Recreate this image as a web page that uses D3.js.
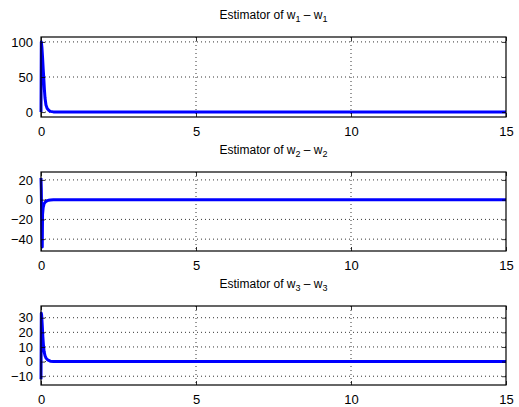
<!DOCTYPE html>
<html>
<head>
<meta charset="utf-8">
<script src="https://cdn.jsdelivr.net/npm/d3@7"></script>
<style>
  body { margin: 0; background: #fff; }
  text { font-family: "Liberation Sans", Arial, Helvetica, sans-serif; fill: #000; }
</style>
</head>
<body>
<div id="vizArea"></div>
<script>
// time samples + values
const time1 = [0, 0.01, 0.03, 0.05, 0.07, 0.09, 0.11, 0.13, 0.16, 0.2, 0.25, 0.3, 0.4, 0.6, 1, 2, 5, 10, 15]
const w1 = [0, 100, 92, 78, 62, 48, 32, 20, 10, 5, 2.5, 1, 0.3, 0, 0, 0, 0, 0, 0]

const time2 = [0, 0.01, 0.03, 0.04, 0.05, 0.07, 0.1, 0.15, 0.2, 0.25, 0.3, 0.4, 0.6, 1, 2, 5, 10, 15]
const w2 = [22, 10, -40, -48, -15, -8, -4, -2, -1, -0.6, -0.3, 0, 0, 0, 0, 0, 0, 0]

const time3 = [0, 0.01, 0.02, 0.04, 0.06, 0.08, 0.1, 0.13, 0.16, 0.2, 0.25, 0.3, 0.4, 0.6, 1, 2, 5, 10, 15]
const w3 = [-12, 33, 32, 25, 17, 11, 7, 4, 2.5, 1.5, 0.8, 0.3, 0, 0, 0, 0, 0, 0, 0]

const xTicks = [0, 5, 10, 15]
const yTicks1 = [0, 50, 100]
const yTicks2 = [-40, -20, 0, 20]
const yTicks3 = [-10, 0, 10, 20, 30]
const subs = ['1', '2', '3']

const W = 519, H = 407
const left = 41, right = 506

const svg = d3.select('#vizArea').append('svg')
    .attr('width', W)
    .attr('height', H)

const panels = [
    {t: time1, v: w1, ticks: yTicks1, dom: [-7, 107], top: 37, bottom: 117},
    {t: time2, v: w2, ticks: yTicks2, dom: [-52, 28], top: 172, bottom: 251},
    {t: time3, v: w3, ticks: yTicks3, dom: [-16, 38], top: 306, bottom: 385}
]

const x = d3.scaleLinear().domain([0, 15]).range([left, right])

panels.forEach((p, i) => {
    const y = d3.scaleLinear().domain(p.dom).range([p.bottom, p.top])
    const g = svg.append('g')

    // dotted grid
    g.selectAll('.gx').data(xTicks.slice(1, -1)).enter().append('line')
        .attr('x1', d => x(d)).attr('x2', d => x(d))
        .attr('y1', p.top).attr('y2', p.bottom)
        .attr('stroke', '#000').attr('stroke-width', 0.8)
        .attr('stroke-dasharray', '1,3')
    g.selectAll('.gy').data(p.ticks).enter().append('line')
        .attr('x1', left).attr('x2', right)
        .attr('y1', d => y(d)).attr('y2', d => y(d))
        .attr('stroke', '#000').attr('stroke-width', 0.8)
        .attr('stroke-dasharray', '1,3')

    // data line
    const line = d3.line().x((d, k) => x(p.t[k])).y(d => y(d))
    g.append('path')
        .datum(p.v)
        .attr('d', line)
        .attr('fill', 'none')
        .attr('stroke', '#0000ff')
        .attr('stroke-width', 3)
        .attr('stroke-linejoin', 'round')

    // axes, inward ticks on all sides
    const ax = d3.axisBottom(x).tickValues(xTicks).tickSize(-4).tickPadding(10)
    const gb = g.append('g').attr('transform', `translate(0,${p.bottom})`).call(ax)
    const gt = g.append('g').attr('transform', `translate(0,${p.top})`)
        .call(d3.axisTop(x).tickValues(xTicks).tickSize(-4).tickFormat(''))
    const gl = g.append('g').attr('transform', `translate(${left},0)`)
        .call(d3.axisLeft(y).tickValues(p.ticks).tickSize(-4).tickPadding(8))
    const gr = g.append('g').attr('transform', `translate(${right},0)`)
        .call(d3.axisRight(y).tickValues(p.ticks).tickSize(-4).tickFormat(''))

    ;[gb, gt, gl, gr].forEach(a => {
        a.select('.domain').remove()
        a.selectAll('line').attr('stroke', '#000').attr('stroke-width', 0.8)
        a.selectAll('text').attr('font-size', 13).attr('fill', '#000')
            .style('font-family', '"Liberation Sans", Arial, sans-serif')
    })
    gl.selectAll('text').text(d => d < 0 ? '\u2212' + Math.abs(d) : d)

    // box
    g.append('rect')
        .attr('x', left).attr('y', p.top)
        .attr('width', right - left).attr('height', p.bottom - p.top)
        .attr('fill', 'none').attr('stroke', '#000').attr('stroke-width', 1.2)

    // title
    const title = g.append('text')
        .attr('x', (left + right) / 2)
        .attr('y', p.top - 18)
        .attr('text-anchor', 'middle')
        .attr('font-size', 12)
    title.append('tspan').text('Estimator of w')
    title.append('tspan').attr('font-size', 9).attr('dy', 3).text(subs[i])
    title.append('tspan').attr('dy', -3).text(' \u2013 w')
    title.append('tspan').attr('font-size', 9).attr('dy', 3).text(subs[i])
})
</script>
</body>
</html>
